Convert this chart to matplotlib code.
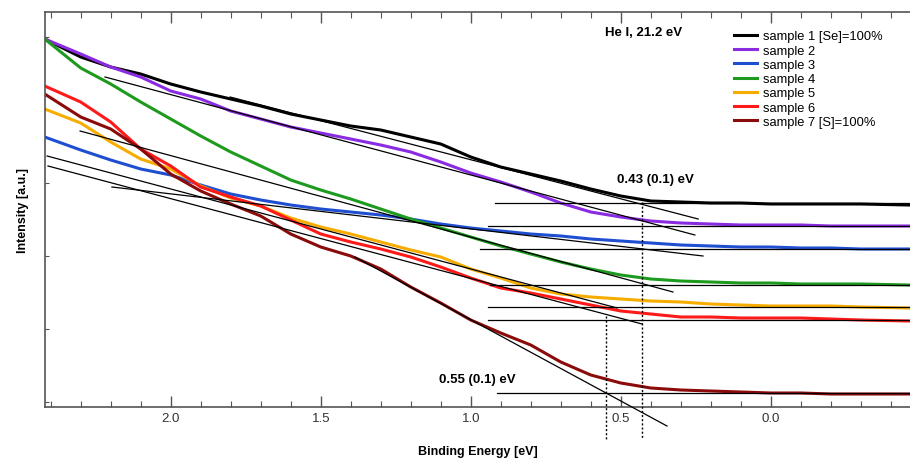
import matplotlib.pyplot as plt
from matplotlib.ticker import MultipleLocator

plt.rcParams['font.family'] = ['Liberation Sans', 'DejaVu Sans']

# binding energy grid (eV), shared by all spectra
energy = [2.42, 2.3, 2.2, 2.1, 2.0, 1.9, 1.8, 1.7, 1.6, 1.5, 1.4, 1.3, 1.2, 1.1, 1.0,
          0.9, 0.8, 0.7, 0.6, 0.5, 0.4, 0.3, 0.2, 0.1, 0.0, -0.1, -0.2, -0.3, -0.46]

# intensities [a.u.]
sample1 = [368, 350, 340, 333, 323, 315, 308, 301, 293, 287, 281, 277, 270, 263, 250,
           240, 233, 226, 218, 211, 206, 205, 204, 204, 203, 203, 203, 203, 202]
sample2 = [368, 353, 340, 330, 316, 308, 296, 288, 280, 274, 268, 262, 255, 245, 234,
           225, 215, 204, 195, 190, 186, 184, 183, 182, 182, 182, 181, 181, 181]
sample3 = [270, 257, 247, 238, 232, 222, 213, 207, 202, 198, 195, 192, 188, 183, 179,
           176, 173, 171, 168, 166, 164, 162, 161, 160, 160, 159, 159, 158, 158]
sample4 = [368, 339, 323, 305, 288, 271, 255, 241, 227, 217, 208, 198, 188, 179, 170,
           161, 153, 145, 138, 132, 128, 126, 125, 124, 124, 123, 123, 123, 122]
sample5 = [298, 284, 265, 248, 238, 221, 209, 201, 189, 180, 173, 165, 157, 150, 138,
           129, 119, 113, 110, 108, 106, 105, 103, 102, 101, 101, 101, 100, 99]
sample6 = [321, 305, 285, 258, 241, 220, 210, 201, 187, 173, 165, 158, 150, 140, 129,
           119, 114, 108, 102, 96, 93, 90, 90, 89, 89, 89, 88, 87, 86]
sample7 = [313, 290, 278, 258, 233, 216, 203, 191, 173, 160, 151, 138, 120, 104, 87,
           74, 62, 45, 32, 24, 19, 17, 16, 15, 14, 14, 13, 13, 13]

spectra = [sample1, sample2, sample3, sample4, sample5, sample6, sample7]
labels = ['sample 1 [Se]=100%', 'sample 2', 'sample 3', 'sample 4',
          'sample 5', 'sample 6', 'sample 7 [S]=100%']
colors = ['#000000', '#8a2be2', '#1f4fd0', '#1e9a1e', '#f7ad00', '#ff1a1a', '#8b0a0a']

# linear fits of the leading edge: (E start, I start, E end, I end)
edge_fits = [
    (1.802, 310, 0.242, 188),
    (2.219, 330, 0.253, 172),
    (2.196, 220, 0.226, 151),
    (2.302, 276, 0.326, 115),
    (2.412, 251, 0.512, 99),
    (2.409, 241, 0.429, 83),
    (1.386, 150, 0.346, -19),
]
# flat background levels: (E start, level)
backgrounds = [(0.919, 204), (0.942, 181), (0.969, 158), (0.936, 122),
               (0.942, 100), (0.942, 87), (0.912, 14)]

onsets = [0.43, 0.55]
onset_tops = [205, 91]

fig = plt.figure(figsize=(9.1, 4.6), dpi=100)
ax = fig.add_axes([45 / 910, 52 / 460, 865 / 910, 395 / 460])

for s, lab, c in zip(spectra, labels, colors):
    ax.plot(energy, s, color=c, lw=2.2, label=lab, zorder=2)

for e0, i0, e1, i1 in edge_fits:
    ax.plot([e0, e1], [i0, i1], color='black', lw=0.9, zorder=3, clip_on=False)

xmax, xmin = 2.419, -0.464
for e0, lvl in backgrounds:
    ax.plot([e0, xmin], [lvl, lvl], color='black', lw=0.9, zorder=3)

for e, top in zip(onsets, onset_tops):
    ax.plot([e, e], [top, -32], color='black', lw=1.0, ls=(0, (1.5, 1.5)),
            zorder=3, clip_on=False)

ax.text(0.552, 375, 'He I, 21.2 eV', fontsize=9.5, fontweight='bold', va='center')
ax.text(0.512, 228, '0.43 (0.1) eV', fontsize=9.5, fontweight='bold', va='center')
ax.text(1.106, 28, '0.55 (0.1) eV', fontsize=9.5, fontweight='bold', va='center')

ax.set_xlim(xmax, xmin)
ax.set_ylim(0, 395)
ax.xaxis.set_major_locator(MultipleLocator(0.5))
ax.xaxis.set_minor_locator(MultipleLocator(0.1))
ax.set_yticks([5, 78, 151, 224, 297, 370])
ax.set_yticklabels([])
ax.tick_params(axis='x', which='both', direction='in', top=True, colors='#555555',
               labelcolor='#333333', labelsize=9.5)
ax.tick_params(axis='x', which='major', length=8, width=1)
ax.tick_params(axis='x', which='minor', length=4, width=0.8)
ax.tick_params(axis='y', direction='in', length=3, colors='#555555')
ax.set_xticks([2.0, 1.5, 1.0, 0.5, 0.0])
ax.set_xticklabels(['2.0', '1.5', '1.0', '0.5', '0.0'])
for side in ['left', 'bottom', 'top']:
    ax.spines[side].set_color('#555555')
    ax.spines[side].set_linewidth(1.2)
ax.spines['right'].set_visible(False)

ax.set_xlabel('Binding Energy [eV]', fontsize=9, fontweight='bold', labelpad=15)
ax.set_ylabel('Intensity [a.u.]', fontsize=9, fontweight='bold', labelpad=8)

ax.legend(loc='upper left', bbox_to_anchor=(0.789, 0.97), frameon=False, fontsize=9.3,
          handlelength=1.8, handletextpad=0.45, labelspacing=0.17, borderpad=0)

fig.savefig('out.png', dpi=100)
